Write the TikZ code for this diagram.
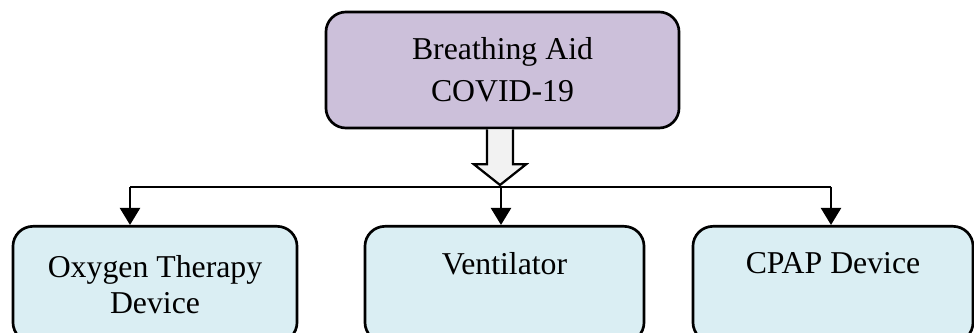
\documentclass[tikz,border=0pt]{standalone}
\usepackage{fontspec}
\setmainfont{Liberation Serif}
\usepackage{xcolor}
\usetikzlibrary{positioning,arrows.meta,calc}

\definecolor{aidpurple}{RGB}{204,192,218}
\definecolor{devblue}{RGB}{218,238,243}
\definecolor{hollowgray}{RGB}{242,242,242}

\tikzset{
    aidbox/.style={draw, line width=1.9pt, rounded corners=0.5cm, fill=aidpurple,
        minimum width=8.825cm, minimum height=2.9cm, inner sep=0pt, align=center,
        font=\fontsize{22.6}{30}\selectfont},
    devbox/.style={draw, line width=1.9pt, rounded corners=0.5cm, fill=devblue,
        minimum height=2.9cm, anchor=north, inner sep=0pt},
    devlabel/.style={inner sep=0pt, align=center, font=\fontsize{22.6}{25.5}\selectfont},
    feed/.style={line width=2.1pt, -{Triangle[length=0.43cm,width=0.5cm]}},
}

\begin{document}
\begin{tikzpicture}[x=0.025cm,y=-0.025cm]
    \useasboundingbox (0,0) rectangle (974,333);
    \clip (0,0) rectangle (974,333);

    % =====================
    % Top box
    % =====================
    \node[aidbox] (aid) at (502.5,70) {Breathing Aid\\COVID-19};

    % =====================
    % Device boxes
    % =====================
    \node[devbox, minimum width=7.1cm] (oxy) at (155,225) {};
    \node[devbox, minimum width=6.975cm] (vent) at (504.5,225) {};
    \node[devbox, minimum width=7cm] (cpap) at (833,225) {};

    \node[devlabel, below=0.75cm of oxy.north] (oxylabel) {Oxygen Therapy\\Device};
    \node[devlabel, below=0.68cm of vent.north] (ventlabel) {Ventilator};
    \node[devlabel, below=0.68cm of cpap.north] (cpaplabel) {CPAP Device};

    % =====================
    % Connectors
    % =====================
    \coordinate (bus) at (500,187);
    \coordinate (oxytap) at (130,187);
    \coordinate (venttap) at (501,187);
    \coordinate (cpaptap) at (831,187);

    % Hollow arrow
    \draw[line width=1.6pt, line join=miter, fill=hollowgray]
        ($(aid.south -| bus)+(-13,0)$) -- ++(0,35) -- ++(-13,0) -- ($(bus)+(0,-2)$)
        -- ($(aid.south -| bus)+(26,35)$) -- ++(-13,0) -- ++(0,-35);

    \draw[line width=2.1pt] (oxytap) -- (cpaptap);
    \foreach \tap/\dev in {oxytap/oxy, venttap/vent, cpaptap/cpap} {
        \draw[feed] (\tap) -- (\tap |- \dev.north);
    }
\end{tikzpicture}
\end{document}
